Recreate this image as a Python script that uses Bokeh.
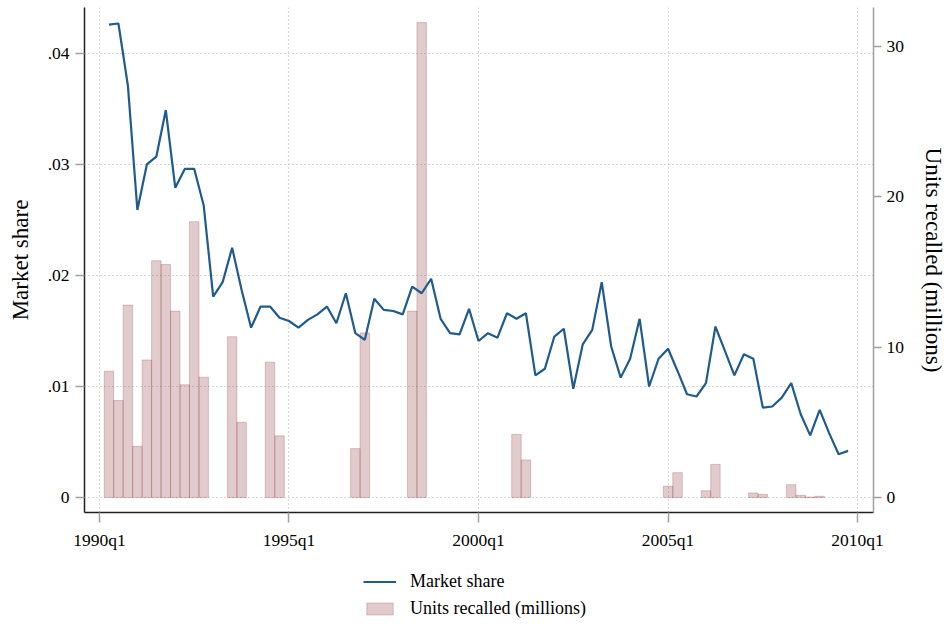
from bokeh.plotting import figure
from bokeh.models import Range1d, LinearAxis, FixedTicker, Legend, LegendItem, Grid
from bokeh.layouts import column
from bokeh.embed import file_html
from bokeh.resources import INLINE

# ---------------- data ----------------
share_start = "1990q2"
market_share = [
    0.0426, 0.0427, 0.0371, 0.0259, 0.0300, 0.0307, 0.0349, 0.0279, 0.0296, 0.0296,
    0.0263, 0.0181, 0.0194, 0.0225, 0.0187, 0.0153, 0.0172, 0.0172, 0.0162, 0.0159,
    0.0153, 0.0160, 0.0165, 0.0172, 0.0157, 0.0184, 0.0148, 0.0142, 0.0179, 0.0169,
    0.0168, 0.0165, 0.0190, 0.0184, 0.0197, 0.0161, 0.0148, 0.0147, 0.0170, 0.0141,
    0.0148, 0.0144, 0.0166, 0.0161, 0.0166, 0.0110, 0.0116, 0.0145, 0.0152, 0.0098,
    0.0138, 0.0151, 0.0194, 0.0136, 0.0108, 0.0125, 0.0161, 0.0100, 0.0125, 0.0134,
    0.0114, 0.0093, 0.0091, 0.0103, 0.0154, 0.0132, 0.0110, 0.0129, 0.0125, 0.0081,
    0.0082, 0.0090, 0.0103, 0.0075, 0.0056, 0.0079, 0.0058, 0.0039, 0.0042,
]

recall_quarters = [
    "1990q2", "1990q3", "1990q4", "1991q1", "1991q2", "1991q3", "1991q4", "1992q1",
    "1992q2", "1992q3", "1992q4", "1993q3", "1993q4", "1994q3", "1994q4", "1996q4",
    "1997q1", "1998q2", "1998q3", "2001q1", "2001q2", "2005q1", "2005q2", "2006q1",
    "2006q2", "2007q2", "2007q3", "2008q2", "2008q3", "2008q4", "2009q1",
]
units_recalled = [
    8.4, 6.45, 12.8, 3.4, 9.15, 15.75, 15.5, 12.4,
    7.5, 18.35, 8.0, 10.7, 5.0, 9.0, 4.1, 3.25,
    10.95, 12.4, 31.6, 4.2, 2.5, 0.75, 1.65, 0.45,
    2.2, 0.3, 0.2, 0.85, 0.15, 0.03, 0.08,
]

x_tick_labels = ["1990q1", "1995q1", "2000q1", "2005q1", "2010q1"]
share_ticks = [0, 0.01, 0.02, 0.03, 0.04]
share_tick_labels = ["0", ".01", ".02", ".03", ".04"]
units_ticks = [0, 10, 20, 30]
legend_labels = ["Market share", "Units recalled (millions)"]


def qindex(s):
    y, q = s.split("q")
    return (int(y) - 1990) * 4 + int(q) - 1


share_x = [qindex(share_start) + i for i in range(len(market_share))]
recall_x = [qindex(s) for s in recall_quarters]
x_ticks = [qindex(s) for s in x_tick_labels]

FONT = "Liberation Serif"
LINE_COLOR = "#1f5b8d"
BAR_COLOR = "#903539"
GRID_COLOR = "#b4b4b4"
BAR_STYLE = dict(fill_color=BAR_COLOR, fill_alpha=0.26,
                 line_color=BAR_COLOR, line_alpha=0.25, line_width=1)
LINE_STYLE = dict(line_color=LINE_COLOR, line_width=2.2)

p = figure(
    width=949, height=560, output_backend="svg", toolbar_location=None,
    x_range=Range1d(-1.58, 81.68), y_range=Range1d(-0.00135, 0.04414),
    min_border_left=84, min_border_right=74, min_border_top=7, min_border_bottom=48,
    x_axis_type=None, y_axis_type=None,
)
p.outline_line_color = None
p.background_fill_color = "white"
p.border_fill_color = "white"
p.extra_y_ranges = {"units": Range1d(-1.0, 32.6)}

# axes
xaxis = LinearAxis(ticker=FixedTicker(ticks=x_ticks),
                   major_label_overrides={t: l for t, l in zip(x_ticks, x_tick_labels)})
yaxis = LinearAxis(ticker=FixedTicker(ticks=share_ticks), axis_label="Market share",
                   major_label_overrides={t: l for t, l in zip(share_ticks, share_tick_labels)})
raxis = LinearAxis(y_range_name="units", ticker=FixedTicker(ticks=units_ticks),
                   axis_label="Units recalled (millions)")
p.add_layout(xaxis, "below")
p.add_layout(yaxis, "left")
p.add_layout(raxis, "right")

for ax in (xaxis, yaxis, raxis):
    ax.major_label_text_font = FONT
    ax.major_label_text_font_size = "17.5px"
    ax.major_label_text_color = "black"
    ax.axis_label_text_font = FONT
    ax.axis_label_text_font_size = "23px"
    ax.axis_label_text_font_style = "normal"
    ax.axis_label_text_color = "black"
    ax.major_tick_in = 0
    ax.minor_tick_line_color = None
    ax.major_tick_line_color = "#a0a0a0"
    ax.major_tick_line_width = 1.5

xaxis.axis_line_color = "#202020"
xaxis.axis_line_width = 1.5
xaxis.major_tick_out = 10
xaxis.major_label_standoff = 7

yaxis.axis_line_color = "#202020"
yaxis.axis_line_width = 1.5
yaxis.major_tick_out = 9
yaxis.major_label_standoff = 6
yaxis.axis_label_standoff = 12

raxis.axis_line_color = "#a0a0a0"
raxis.axis_line_width = 1.5
raxis.major_tick_out = 8
raxis.major_label_standoff = 5
raxis.axis_label_standoff = 14

# grids
xgrid = Grid(dimension=0, ticker=xaxis.ticker, grid_line_color=GRID_COLOR,
             grid_line_dash="1 3", grid_line_width=1.2)
ygrid = Grid(dimension=1, ticker=yaxis.ticker, grid_line_color=GRID_COLOR,
             grid_line_dash="1 3", grid_line_width=1.2)
p.add_layout(xgrid)
p.add_layout(ygrid)

p.vbar(x=recall_x, top=units_recalled, bottom=0, width=1.0,
       y_range_name="units", **BAR_STYLE)
p.line(x=share_x, y=market_share, **LINE_STYLE)

# ---------------- legend strip below the chart ----------------
# (its frame is aligned with the chart frame by the column layout)
lf = figure(
    width=949, height=64, output_backend="svg", toolbar_location=None,
    x_range=Range1d(0, 1), y_range=Range1d(0, 1),
    min_border=0, x_axis_type=None, y_axis_type=None,
)
lf.outline_line_color = None
lf.xgrid.visible = False
lf.ygrid.visible = False
# swatch-only renderers: their single point lies outside the strip's visible range
leg_line = lf.line(x=[-5, -4], y=[-5, -5], **LINE_STYLE)
leg_bar = lf.vbar(x=[-5], top=[-4], bottom=-5, width=1.0, **BAR_STYLE)

legend = Legend(
    items=[LegendItem(label=legend_labels[0], renderers=[leg_line]),
           LegendItem(label=legend_labels[1], renderers=[leg_bar])],
    location=(279, 5),
    orientation="vertical",
    label_text_font=FONT, label_text_font_size="18px", label_text_color="black",
    glyph_width=33, glyph_height=15, label_height=21, label_standoff=14,
    spacing=6, padding=0, margin=0,
    border_line_color=None, background_fill_alpha=0,
)
lf.add_layout(legend)

open("out.html", "w").write(file_html(column(p, lf, spacing=0), INLINE))
